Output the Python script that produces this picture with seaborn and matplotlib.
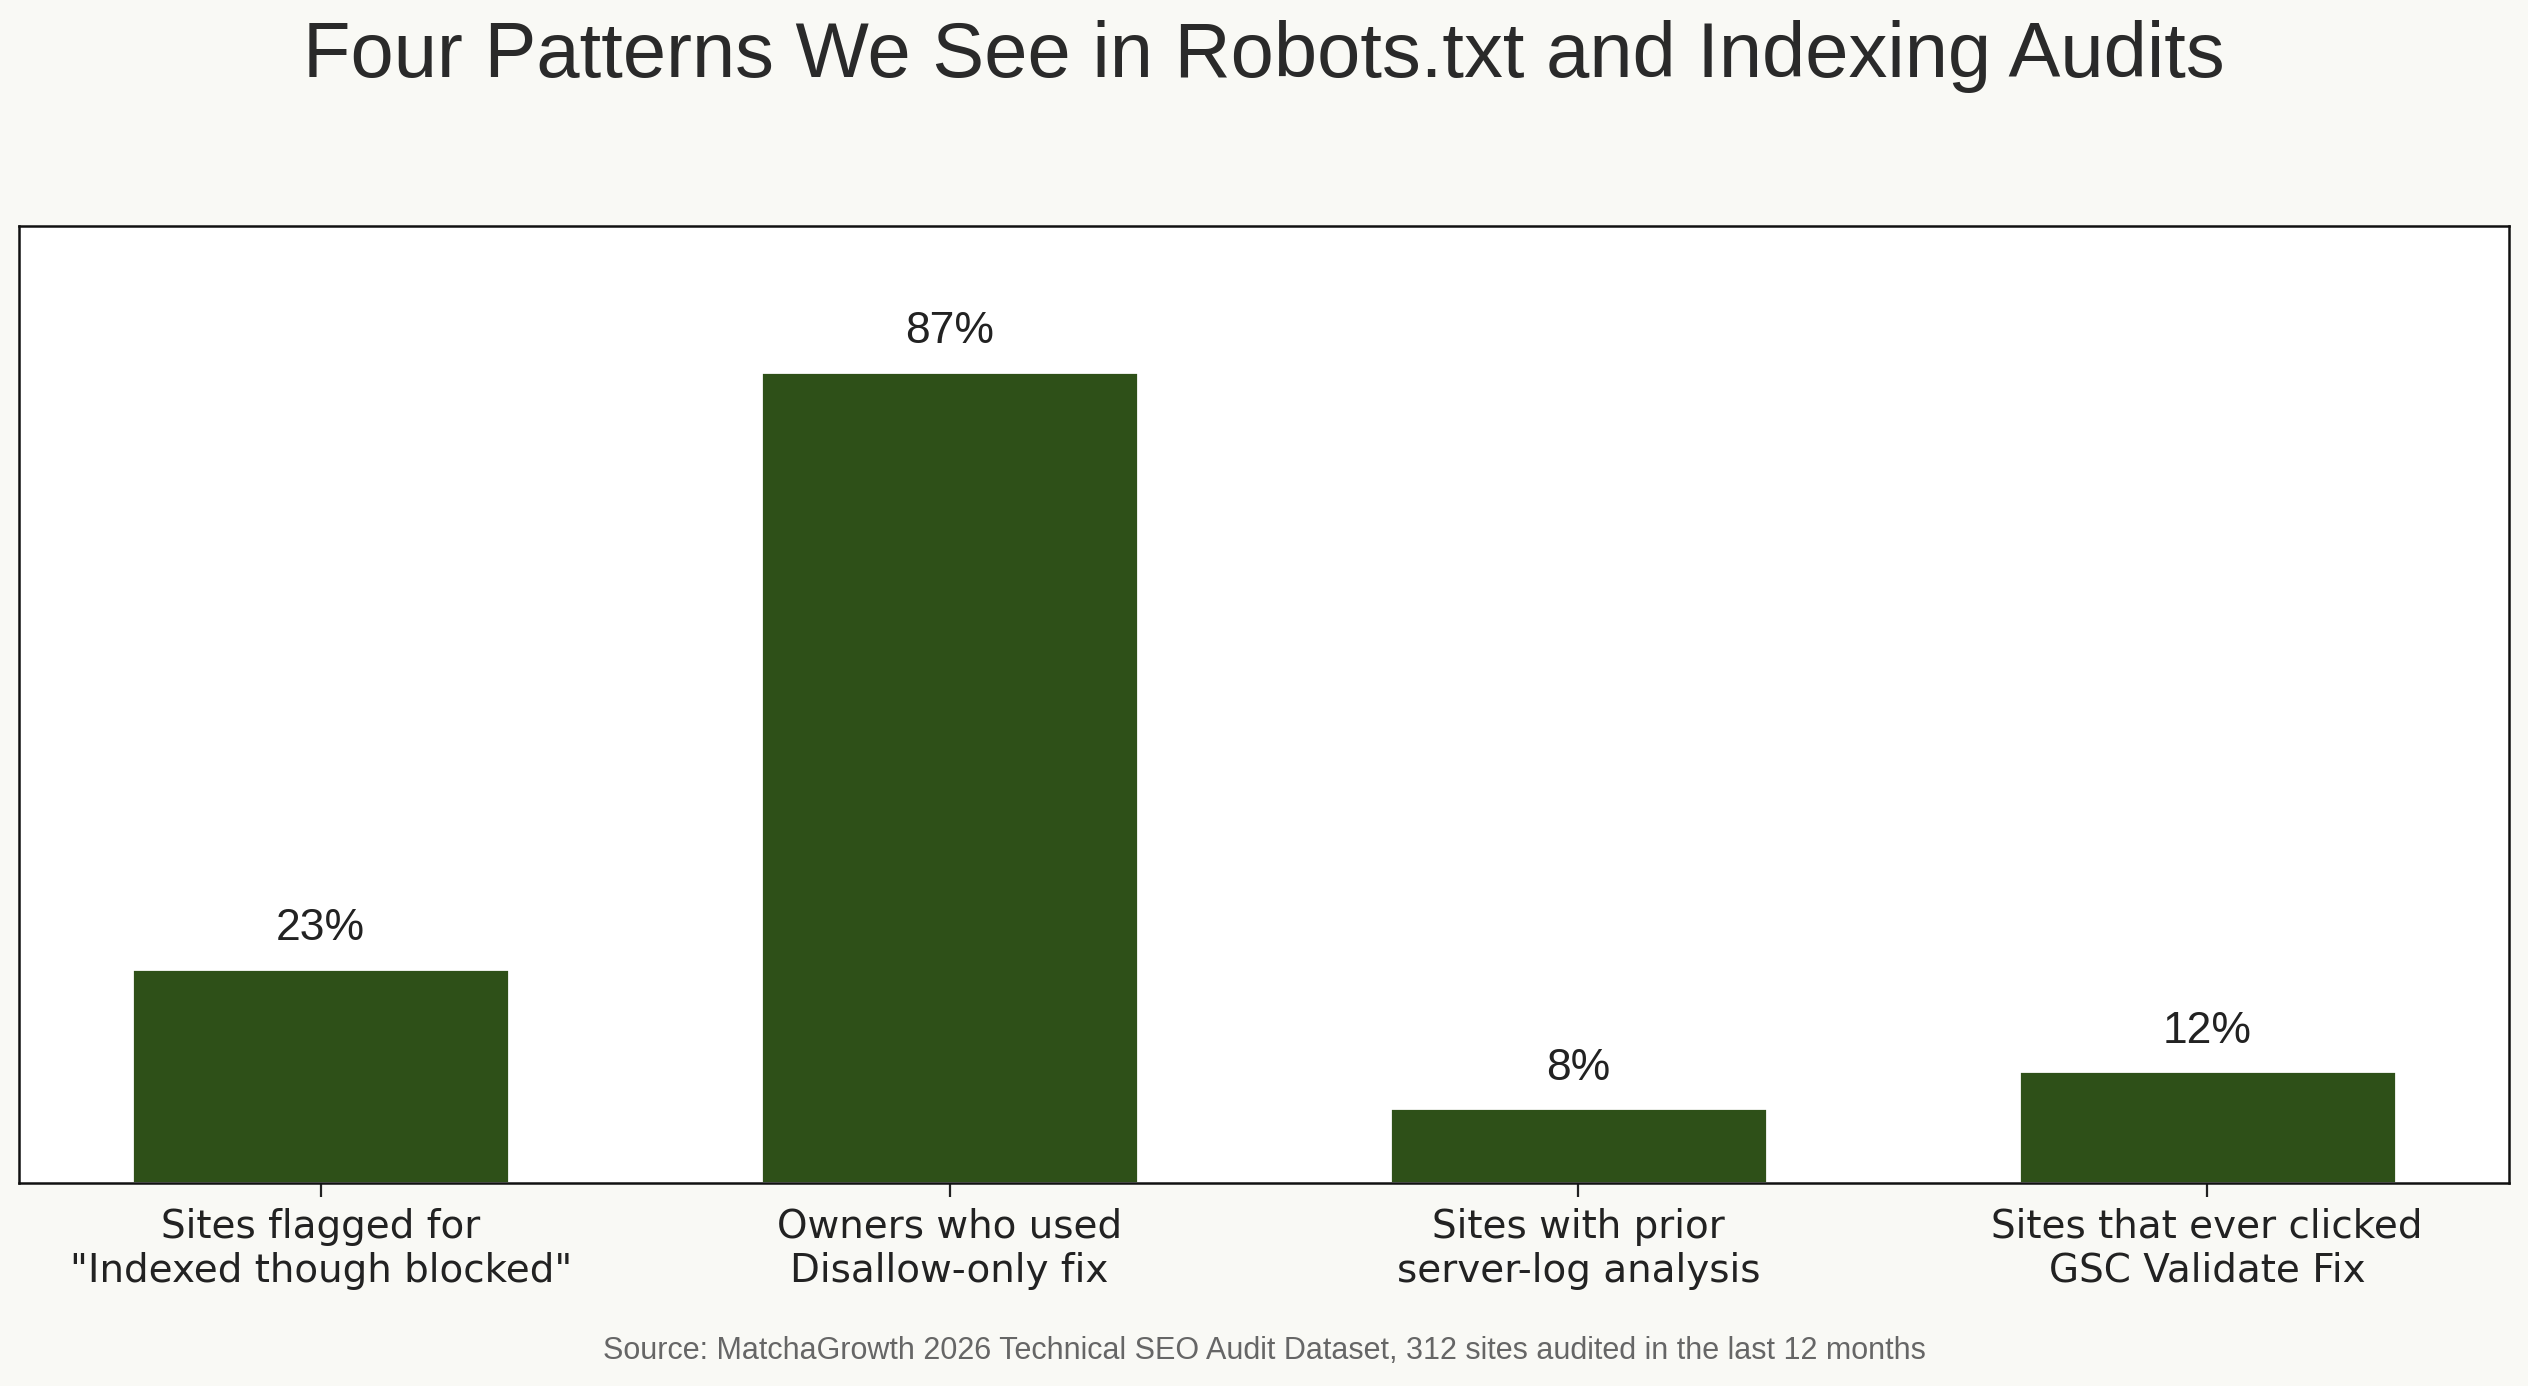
import matplotlib
matplotlib.use("Agg")
import matplotlib.pyplot as plt
import seaborn as sns
import pandas as pd

categories = ['Sites flagged for\n"Indexed though blocked"',
              'Owners who used\nDisallow-only fix',
              'Sites with prior\nserver-log analysis',
              'Sites that ever clicked\nGSC Validate Fix']
values = [23, 87, 8, 12]
value_labels = ["23%", "87%", "8%", "12%"]

title = "Four Patterns We See in Robots.txt and Indexing Audits"
source = "Source: MatchaGrowth 2026 Technical SEO Audit Dataset, 312 sites audited in the last 12 months"

sns.set_theme(style="white")
plt.rcParams['font.family'] = ['DejaVu Sans']

BG = "#f9f9f5"
BAR = "#2e5018"

fig = plt.figure(figsize=(12.64, 6.93), dpi=200, facecolor=BG)
ax = fig.add_axes([0.0075, 0.1465, 0.985, 0.6905])
ax.set_facecolor("white")

df = pd.DataFrame({"cat": categories, "val": values})
sns.barplot(data=df, x="cat", y="val", color=BAR, width=0.6, saturation=1, ax=ax)

ax.set_xlim(-0.48, 3.48)
ax.set_ylim(0, max(values) * 1.18)
ax.set_xlabel("")
ax.set_ylabel("")
ax.set_yticks([])
ax.tick_params(axis="x", bottom=True, length=5, width=0.8, color="#222222",
               labelsize=14, labelcolor="#222222", pad=4)
for sp in ax.spines.values():
    sp.set_visible(True)
    sp.set_color("#111111")
    sp.set_linewidth(0.9)

ax.bar_label(ax.containers[0], labels=value_labels, padding=7,
             fontsize=16, color="#222222", family="Liberation Sans")

fig.text(0.5, 0.959, title, ha="center", va="center", fontsize=28,
         color="#2a2a2a", family="Liberation Sans")
fig.text(0.5, 0.0255, source, ha="center", va="center", fontsize=11,
         color="#666666", family="Liberation Sans")

fig.savefig("out.png", dpi=200, facecolor=BG)
